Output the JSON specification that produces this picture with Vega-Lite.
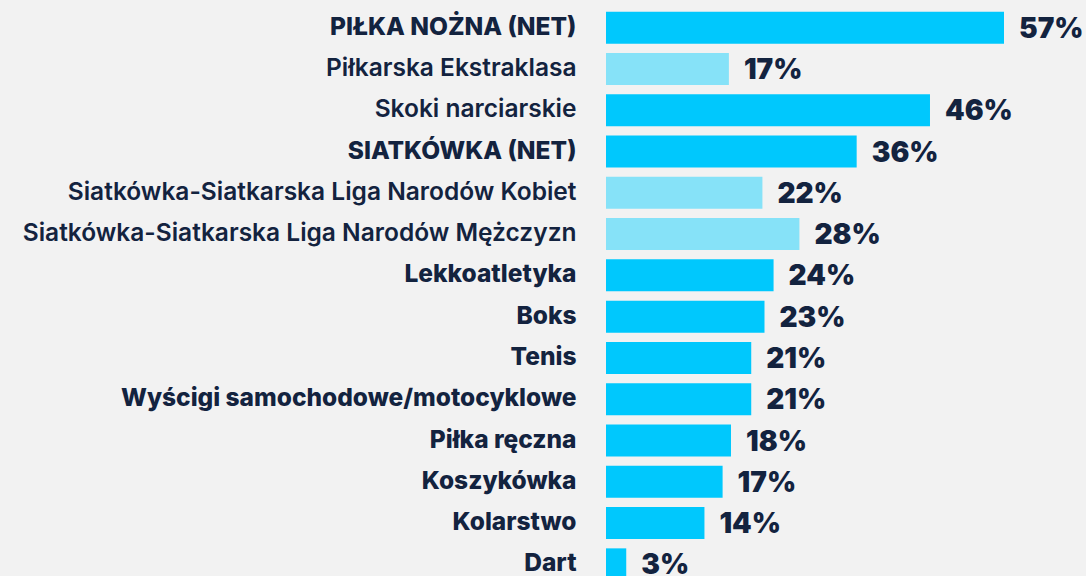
{
  "$schema": "https://vega.github.io/schema/vega-lite/v6.json",
  "width": 398,
  "height": 569,
  "autosize": {"type": "none"},
  "padding": {"left": 606, "top": 7, "right": 82, "bottom": 0},
  "background": "#f2f2f2",
  "config": {"view": {"stroke": null}},
  "data": {
    "values": [
      {"sport": "PIŁKA NOŻNA (NET)", "value": 57.0, "label": "57%", "type": "net"},
      {"sport": "Piłkarska Ekstraklasa", "value": 17.6, "label": "17%", "type": "sub"},
      {"sport": "Skoki narciarskie", "value": 46.4, "label": "46%", "type": "main"},
      {"sport": "SIATKÓWKA (NET)", "value": 35.9, "label": "36%", "type": "net"},
      {"sport": "Siatkówka-Siatkarska Liga Narodów Kobiet", "value": 22.4, "label": "22%", "type": "sub"},
      {"sport": "Siatkówka-Siatkarska Liga Narodów Mężczyzn", "value": 27.7, "label": "28%", "type": "sub"},
      {"sport": "Lekkoatletyka", "value": 24.0, "label": "24%", "type": "main"},
      {"sport": "Boks", "value": 22.7, "label": "23%", "type": "main"},
      {"sport": "Tenis", "value": 20.8, "label": "21%", "type": "main"},
      {"sport": "Wyścigi samochodowe/motocyklowe", "value": 20.8, "label": "21%", "type": "main"},
      {"sport": "Piłka ręczna", "value": 17.9, "label": "18%", "type": "main"},
      {"sport": "Koszykówka", "value": 16.7, "label": "17%", "type": "main"},
      {"sport": "Kolarstwo", "value": 14.1, "label": "14%", "type": "main"},
      {"sport": "Dart", "value": 2.9, "label": "3%", "type": "main"}
    ]
  },
  "encoding": {
    "y": {
      "field": "sport",
      "type": "nominal",
      "sort": null,
      "scale": {"range": [0, 578], "paddingInner": 0.225, "paddingOuter": 0.1125},
      "axis": {
        "title": null,
        "domain": false,
        "ticks": false,
        "labelPadding": 30,
        "labelFont": "Inter",
        "labelFontSize": 24.5,
        "labelColor": "#13233f",
        "labelLimit": 700,
        "labelFontWeight": {
          "condition": {
            "test": "indexof(['Piłkarska Ekstraklasa','Skoki narciarskie','Siatkówka-Siatkarska Liga Narodów Kobiet','Siatkówka-Siatkarska Liga Narodów Mężczyzn'], datum.label) >= 0",
            "value": 600
          },
          "value": 800
        }
      }
    },
    "x": {
      "field": "value",
      "type": "quantitative",
      "scale": {"domain": [0, 57], "nice": false},
      "axis": null
    }
  },
  "layer": [
    {
      "mark": {"type": "bar"},
      "encoding": {
        "color": {
          "field": "type",
          "type": "nominal",
          "scale": {"domain": ["net", "main", "sub"], "range": ["#00c8fd", "#00c8fd", "#86e2f8"]},
          "legend": null
        }
      }
    },
    {
      "mark": {"type": "text", "align": "left", "baseline": "middle", "dx": 15, "dy": 2, "font": "Inter", "fontSize": 28, "fontWeight": 900, "color": "#13233f"},
      "encoding": {"text": {"field": "label"}}
    }
  ]
}
